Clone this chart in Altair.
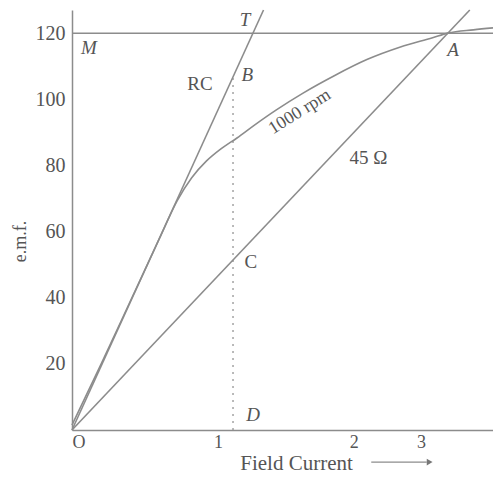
import altair as alt
import pandas as pd

# Magnetisation curve at 1000 rpm (x in drawing units where tick "1" = 1)
occ_current = [0.0, 0.2, 0.4, 0.6, 0.72, 0.82, 0.92, 1.02, 1.13, 1.25, 1.4, 1.58, 1.8, 2.02, 2.25, 2.47, 2.575, 2.75, 2.884]
occ_emf = [1.5, 20, 39, 58, 69.3, 76.3, 81.3, 85, 88.3, 92.2, 96.8, 101.8, 107.2, 112, 115.8, 118.6, 120, 121, 121.6]

# Critical resistance line O-T
rc_current = [0.0, 1.312]
rc_emf = [0, 127]

# 45 ohm field resistance line O-A
r45_current = [0.0, 2.725]
r45_emf = [0, 127]

# Horizontal 120 V line and vertical D-B ordinate
level_emf = 120
ordinate_current = 1.103
ordinate_top = 106.5

# x tick positions and their labels
tick_pos = [0, 1, 1.93, 2.39]
tick_text = ["O", "1", "2", "3"]
y_ticks = [20, 40, 60, 80, 100, 120]

# Point labels
lab_text = ["T", "M", "B", "A", "D", "RC", "C", "45 Ω"]
lab_x = [1.185, 0.115, 1.20, 2.61, 1.24, 0.877, 1.225, 2.03]
lab_y = [123.9, 115.6, 107.3, 114.9, 4.5, 104.6, 50.8, 82.2]
lab_italic = ["italic", "italic", "italic", "italic", "italic", "normal", "normal", "normal"]

curve_label = "1000 rpm"
curve_label_x = 1.56
curve_label_y = 96.2

# Direction arrow under the axis ("Field Current ->")
arrow_start = 2.05
arrow_end = 2.43
arrow_tip = 2.45
arrow_emf = -9.7

rows = []
for name, xs, ys in [("occ", occ_current, occ_emf), ("rc", rc_current, rc_emf), ("r45", r45_current, r45_emf)]:
    for i, (a, b) in enumerate(zip(xs, ys)):
        rows.append({"series": name, "i": i, "current": a, "emf": b})
lines_df = pd.DataFrame(rows)

labels_df = pd.DataFrame({"text": lab_text, "current": lab_x, "emf": lab_y, "style": lab_italic})

GRAY = "#8c8c8c"
TEXT = "#555555"
FONT = "Liberation Serif"

label_map = "{" + ",".join(f"'{p}':'{t}'" for p, t in zip(tick_pos, tick_text)) + "}"

xscale = alt.Scale(domain=[0, 2.884], nice=False, zero=False)
yscale = alt.Scale(domain=[0, 127], nice=False)

xax = alt.Axis(values=tick_pos, labelExpr=f"{label_map}[datum.value] || ''",
               ticks=False, grid=False, domainColor=GRAY, domainWidth=1.5,
               labelFont=FONT, labelFontSize=18, labelColor=TEXT, labelPadding=3,
               title="Field Current", titleFont=FONT, titleFontSize=21,
               titleFontWeight="normal", titleColor=TEXT, titleX=224, titleY=22)
yax = alt.Axis(values=y_ticks, ticks=False, grid=False, domainColor=GRAY, domainWidth=1.5,
               labelFont=FONT, labelFontSize=20, labelColor=TEXT, labelPadding=7,
               title="e.m.f.", titleFont=FONT, titleFontSize=18, titleFontWeight="normal",
               titleColor=TEXT, titleX=-43, titleY=231)

base = alt.Chart(lines_df)

lines = base.mark_line(color=GRAY, strokeWidth=1.6, interpolate="monotone").encode(
    x=alt.X("current:Q", scale=xscale, axis=xax),
    y=alt.Y("emf:Q", scale=yscale, axis=yax),
    detail="series:N",
    order="i:Q",
)

hline = alt.Chart(pd.DataFrame({"emf": [level_emf]})).mark_rule(color=GRAY, strokeWidth=1.5).encode(
    y=alt.Y("emf:Q", scale=yscale)
)

vline = alt.Chart(pd.DataFrame({"current": [ordinate_current], "lo": [0], "hi": [ordinate_top]})).mark_rule(
    color=GRAY, strokeWidth=1.2, strokeDash=[2, 5]
).encode(
    x=alt.X("current:Q", scale=xscale),
    y=alt.Y("lo:Q", scale=yscale),
    y2="hi:Q",
)

def label_layer(style):
    return alt.Chart(labels_df).transform_filter(
        alt.datum.style == style
    ).mark_text(font=FONT, fontSize=19, color=TEXT, fontStyle=style).encode(
        x=alt.X("current:Q", scale=xscale),
        y=alt.Y("emf:Q", scale=yscale),
        text="text:N",
    )

curve_txt = alt.Chart(pd.DataFrame({"current": [curve_label_x], "emf": [curve_label_y], "t": [curve_label]})).mark_text(
    font=FONT, fontSize=18, color=TEXT, angle=328
).encode(
    x=alt.X("current:Q", scale=xscale),
    y=alt.Y("emf:Q", scale=yscale),
    text="t:N",
)

arrow_df = pd.DataFrame({"a": [arrow_start], "b": [arrow_end], "emf": [arrow_emf]})
arrow_shaft = alt.Chart(arrow_df).mark_rule(color=GRAY, strokeWidth=1.3).encode(
    x=alt.X("a:Q", scale=xscale),
    x2="b:Q",
    y=alt.Y("emf:Q", scale=yscale),
)
arrow_head = alt.Chart(pd.DataFrame({"tip": [arrow_tip], "emf": [arrow_emf]})).mark_point(
    shape="triangle-right", filled=True, color="#777777", size=45, opacity=1
).encode(
    x=alt.X("tip:Q", scale=xscale),
    y=alt.Y("emf:Q", scale=yscale),
)

chart = alt.layer(hline, vline, lines, label_layer("italic"), label_layer("normal"), curve_txt,
                  arrow_shaft, arrow_head).properties(
    width=421, height=420,
    padding={"left": 64, "top": 2, "right": 0, "bottom": 50},
    autosize="none",
    background="white",
).configure_view(stroke=None)

chart.save("out.html", embed_options={"renderer": "svg", "actions": False})
